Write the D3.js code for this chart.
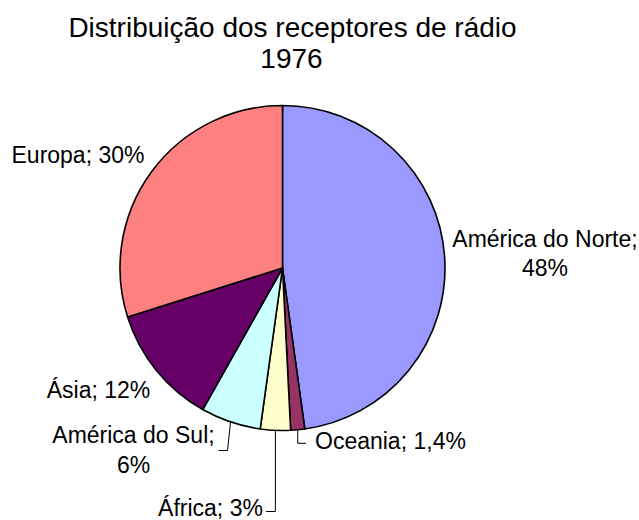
<!DOCTYPE html>
<html>
<head>
<meta charset="utf-8">
<script src="https://cdn.jsdelivr.net/npm/d3@7"></script>
<style>
  html, body { margin: 0; padding: 0; background: #fff; }
  svg { display: block; }
  text { font-family: "Liberation Sans", Arial, sans-serif; fill: #000; }
</style>
</head>
<body>
<svg id="chart" width="639" height="520"></svg>
<script>
// ---- data ----
const categories = ["América do Norte", "Oceania", "África", "América do Sul", "Ásia", "Europa"];
const values = [48, 1.4, 3, 6, 12, 30];
const colors = ["#9999FF", "#993366", "#FFFFCC", "#CCFFFF", "#660066", "#FF8080"];
const titleLines = ["Distribuição dos receptores de rádio", "1976"];

// ---- layout (not data) ----
const W = 639, H = 520;
const cx = 282.5, cy = 268, R = 162.5;
// label placement: lines, anchor x, first baseline y, line height
const labelLayout = [
  { x: 545, y: 246.5, split: true },
  { x: 315, y: 449, anchor: "start", split: false },
  { x: 210.5, y: 516, split: false },
  { x: 133.5, y: 443, split: true },
  { x: 98.5, y: 397.5, split: false },
  { x: 78, y: 163, split: false }
];
// leader lines: elbow / end relative geometry (null = no leader)
const leaderLayout = [
  null,
  { elbowY: 443.3, endX: 306 },
  { elbowY: 511.5, endX: 266 },
  { elbowX: 227.5, elbowY: 450.5, endX: 218.5 },
  null,
  null
];

const svg = d3.select("#chart");

// title
svg.append("text")
  .attr("x", 292.5).attr("y", 37)
  .attr("text-anchor", "middle")
  .style("font-size", "28px")
  .text(titleLines[0]);
svg.append("text")
  .attr("x", 291.5).attr("y", 68)
  .attr("text-anchor", "middle")
  .style("font-size", "28px")
  .text(titleLines[1]);

const data = categories.map((c, i) => ({ name: c, value: values[i], color: colors[i], i }));

const pie = d3.pie().value(d => d.value).sort(null).startAngle(0).endAngle(2 * Math.PI);
const arcs = pie(data);
const arc = d3.arc().innerRadius(0).outerRadius(R);

const g = svg.append("g").attr("transform", `translate(${cx},${cy})`);
g.selectAll("path.slice")
  .data(arcs)
  .enter().append("path")
  .attr("class", "slice")
  .attr("d", arc)
  .attr("fill", d => d.data.color)
  .attr("stroke", "#000")
  .attr("stroke-width", 1.6)
  .attr("stroke-linejoin", "round");

const locale = d3.formatLocale({ decimal: ",", thousands: ".", grouping: [3], currency: ["", ""] });
const fmt = locale.format("~g");

// leader lines
const line = d3.line();
arcs.forEach((a, i) => {
  const L = leaderLayout[i];
  if (!L) return;
  const mid = (a.startAngle + a.endAngle) / 2;
  const px = cx + R * Math.sin(mid);
  const py = cy - R * Math.cos(mid);
  const ex = L.elbowX !== undefined ? L.elbowX : px;
  const pts = [[px, py], [ex, L.elbowY], [L.endX, L.elbowY]];
  svg.append("path")
    .attr("d", line(pts))
    .attr("fill", "none")
    .attr("stroke", "#000")
    .attr("stroke-width", 1);
});

// labels
arcs.forEach((a, i) => {
  const L = labelLayout[i];
  const pct = fmt(a.data.value) + "%";
  const t = svg.append("text")
    .attr("x", L.x).attr("y", L.y)
    .attr("text-anchor", L.anchor || "middle")
    .style("font-size", "23px");
  if (L.split) {
    t.append("tspan").attr("x", L.x).attr("y", L.y).text(a.data.name + ";");
    t.append("tspan").attr("x", L.x).attr("y", L.y + 29.5).text(pct);
  } else {
    t.text(a.data.name + "; " + pct);
  }
});
</script>
</body>
</html>
